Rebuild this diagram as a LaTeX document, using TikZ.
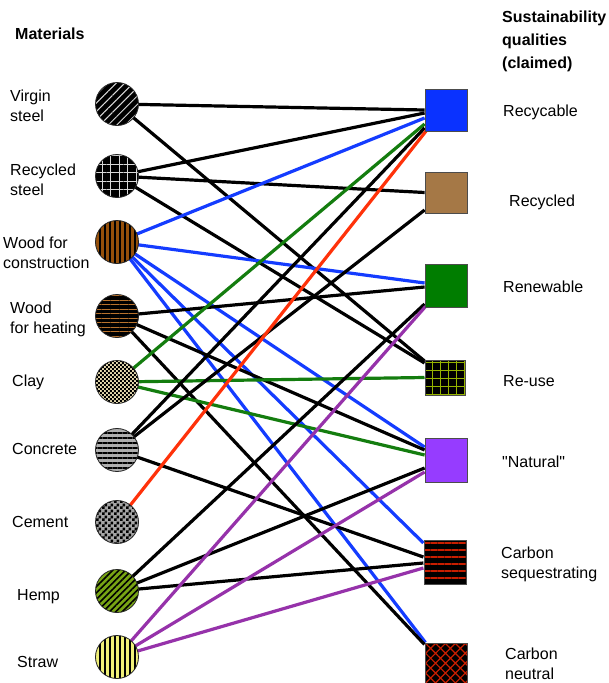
\documentclass[tikz,border=0pt]{standalone}
\usepackage{fontspec}
\setmainfont{Liberation Sans}
\newfontfamily\plainquote{Liberation Sans}[Ligatures=ResetAll]
\usetikzlibrary{patterns,patterns.meta,backgrounds}
\pgfdeclarepatternformonly{chkfine}{\pgfpointorigin}{\pgfqpoint{4.4pt}{4.4pt}}{\pgfqpoint{4.4pt}{4.4pt}}{%
  \pgfpathrectangle{\pgfpointorigin}{\pgfqpoint{2.2pt}{2.2pt}}%
  \pgfpathrectangle{\pgfqpoint{2.2pt}{2.2pt}}{\pgfqpoint{2.2pt}{2.2pt}}%
  \pgfusepath{fill}}
\pgfdeclarepatternformonly{chkmid}{\pgfpointorigin}{\pgfqpoint{6pt}{6pt}}{\pgfqpoint{6pt}{6pt}}{%
  \pgfpathrectangle{\pgfpointorigin}{\pgfqpoint{3pt}{3pt}}%
  \pgfpathrectangle{\pgfqpoint{3pt}{3pt}}{\pgfqpoint{3pt}{3pt}}%
  \pgfusepath{fill}}
\definecolor{lblue}{RGB}{20,60,255}
\definecolor{lgreen}{RGB}{20,125,15}
\definecolor{lred}{RGB}{255,50,10}
\definecolor{lpurple}{RGB}{150,50,170}
\definecolor{woodbrown}{RGB}{150,80,10}
\definecolor{heatbrown}{RGB}{185,115,45}
\definecolor{claybg}{RGB}{230,218,175}
\definecolor{concgray}{RGB}{175,175,175}
\definecolor{cemgray}{RGB}{165,165,165}
\definecolor{hempgreen}{RGB}{120,165,20}
\definecolor{strawyel}{RGB}{240,240,120}
\definecolor{sqblue}{RGB}{10,50,255}
\definecolor{sqbrown}{RGB}{165,120,70}
\definecolor{sqgreen}{RGB}{0,125,0}
\definecolor{sqolive}{RGB}{150,180,0}
\definecolor{sqpurple}{RGB}{150,60,255}
\definecolor{sqred}{RGB}{200,30,0}
\newcommand{\lblfont}{\fontsize{16}{20}\selectfont}
\newcommand{\hdrfont}{\fontsize{16}{23}\selectfont\bfseries}
\begin{document}
\begin{tikzpicture}[x=1pt,y=-1pt,
  mat/.style={circle, draw=black!85, line width=0.8pt, minimum size=43pt, inner sep=0pt},
  qual/.style={rectangle, draw=black!70, line width=0.8pt, minimum width=42pt, minimum height=42pt, inner sep=0pt},
  lbl/.style={anchor=west, align=left, font=\lblfont, inner sep=0pt},
  hdr/.style={anchor=west, align=left, font=\hdrfont, inner sep=0pt},
  link/.style={line width=3.2pt},
  blk/.style={link, black},
  blu/.style={link, lblue},
  grn/.style={link, lgreen},
  rd/.style={link, lred},
  pur/.style={link, lpurple}]
\useasboundingbox (0,0) rectangle (609,683);
% materials
\node[mat, preaction={fill=black}, pattern={Lines[angle=45,distance=6pt,line width=1pt]}, pattern color=white!85!black] (vs) at (117,104) {};
\node[mat, preaction={fill=black}, pattern={Hatch[distance=8.5pt,line width=1pt]}, pattern color=white!85!black] (rs) at (117,176) {};
\node[mat, preaction={fill=woodbrown}, pattern={Lines[angle=90,distance=5pt,line width=1.8pt]}, pattern color=black] (wc) at (117,242) {};
\node[mat, preaction={fill=black}, pattern={Lines[angle=0,distance=4.5pt,line width=1pt]}, pattern color=heatbrown] (wh) at (117,316) {};
\node[mat, preaction={fill=claybg}, pattern=chkfine, pattern color=black] (clay) at (117,382) {};
\node[mat, preaction={fill=concgray}, pattern={Lines[angle=0,distance=5pt,line width=2.2pt]}, pattern color=black] (conc) at (117,450) {};
\node[mat, preaction={fill=cemgray}, pattern=chkmid, pattern color=black] (cem) at (117,522) {};
\node[mat, preaction={fill=hempgreen}, pattern={Lines[angle=45,distance=4.5pt,line width=1.6pt]}, pattern color=black] (hemp) at (117,591) {};
\node[mat, preaction={fill=strawyel}, pattern={Lines[angle=90,distance=5pt,line width=2pt]}, pattern color=black] (straw) at (117,657) {};
% qualities
\node[qual, fill=sqblue] (rcy) at (446,110) {};
\node[qual, fill=sqbrown, minimum height=41pt] (rcd) at (446,192.5) {};
\node[qual, fill=sqgreen, minimum height=43pt] (ren) at (446,285.5) {};
\node[qual, preaction={fill=black}, pattern={Hatch[distance=8pt,line width=1pt]}, pattern color=sqolive, minimum width=40pt, minimum height=35pt] (reu) at (445,377.5) {};
\node[qual, fill=sqpurple, minimum height=44pt] (nat) at (446,460) {};
\node[qual, preaction={fill=black}, pattern={Lines[angle=0,distance=7pt,line width=1.2pt]}, pattern color=sqred, minimum height=44pt] (cseq) at (445,562) {};
\node[qual, preaction={fill=black}, pattern={Hatch[angle=45,distance=7pt,line width=1.2pt]}, pattern color=sqred] (cneu) at (446,664) {};
% labels
\node[hdr] (hmat) at (15,34) {Materials};
\node[hdr] (hsus) at (502,41) {Sustainability\\qualities\\(claimed)};
\node[lbl] (lvs) at (10,106) {Virgin\\steel};
\node[lbl] (lrs) at (10,180) {Recycled\\steel};
\node[lbl] (lwc) at (3,253) {Wood for\\construction};
\node[lbl] (lwh) at (10,319) {Wood\\for heating};
\node[lbl] (lcl) at (12,382) {Clay};
\node[lbl] (lco) at (12,449) {Concrete};
\node[lbl] (lce) at (12,522) {Cement};
\node[lbl] (lhe) at (17,597) {Hemp};
\node[lbl] (lst) at (17,662) {Straw};
\node[lbl] (lrcy) at (503,112) {Recycable};
\node[lbl] (lrcd) at (509,202) {Recycled};
\node[lbl] (lren) at (503,287) {Renewable};
\node[lbl] (lreu) at (503,381) {Re-use};
\node[lbl] (lnat) at (502,462) {\plainquote "Natural"};
\node[lbl] (lcseq) at (501,564) {Carbon\\sequestrating};
\node[lbl] (lcneu) at (505,664) {Carbon\\neutral};
% connectors
\begin{scope}[on background layer]
\fill[white] (0,0) rectangle (609,683);
% virgin steel
\draw[blk] (vs.center) -- (rcy.west);
\draw[blk] (vs.center) -- ([yshift=16.5pt]reu.west);
% recycled steel
\draw[blk] (rs.center) -- ([yshift=-3pt]rcy.west);
\draw[blk] (rs.center) -- (rcd.west);
\draw[blk] (rs.center) -- ([yshift=14.5pt]reu.west);
% wood for construction
\draw[blu] (wc.center) -- ([yshift=-8pt]rcy.west);
\draw[blu] (wc.center) -- ([yshift=2.5pt]ren.west);
\draw[blu] (wc.center) -- ([yshift=13pt]nat.west);
\draw[blu] (wc.center) -- ([yshift=19pt]cseq.west);
\draw[blu] (wc.center) -- ([xshift=1pt]cneu.north west);
% wood for heating
\draw[blk] (wh.center) -- ([yshift=-1.5pt]ren.west);
\draw[blk] (wh.center) -- ([yshift=10pt]nat.west);
\draw[blk] (wh.center) -- ([yshift=-2pt]cneu.north west);
% clay
\draw[grn] (clay.center) -- ([yshift=-14pt]rcy.west);
\draw[grn] (clay.center) -- (reu.west);
\draw[grn] (clay.center) -- ([yshift=5pt]nat.west);
% concrete
\draw[blk] (conc.center) -- ([yshift=-18pt]rcy.west);
\draw[blk] (conc.center) -- ([yshift=-17.5pt]rcd.west);
\draw[blk] (conc.center) -- ([yshift=5pt]cseq.west);
% cement
\draw[rd] (cem.center) -- ([xshift=2pt,yshift=1pt]rcy.south west);
% hemp
\draw[blk] (hemp.center) -- ([yshift=-18.5pt]ren.west);
\draw[blk] (hemp.center) -- ([yshift=-8pt]nat.west);
\draw[blk] (hemp.center) -- ([yshift=-1pt]cseq.west);
% straw
\draw[pur] (straw.center) -- ([xshift=1pt,yshift=1pt]ren.south west);
\draw[pur] (straw.center) -- ([yshift=-12pt]nat.west);
\draw[pur] (straw.center) -- ([yshift=-6pt]cseq.west);
\end{scope}
\end{tikzpicture}
\end{document}
